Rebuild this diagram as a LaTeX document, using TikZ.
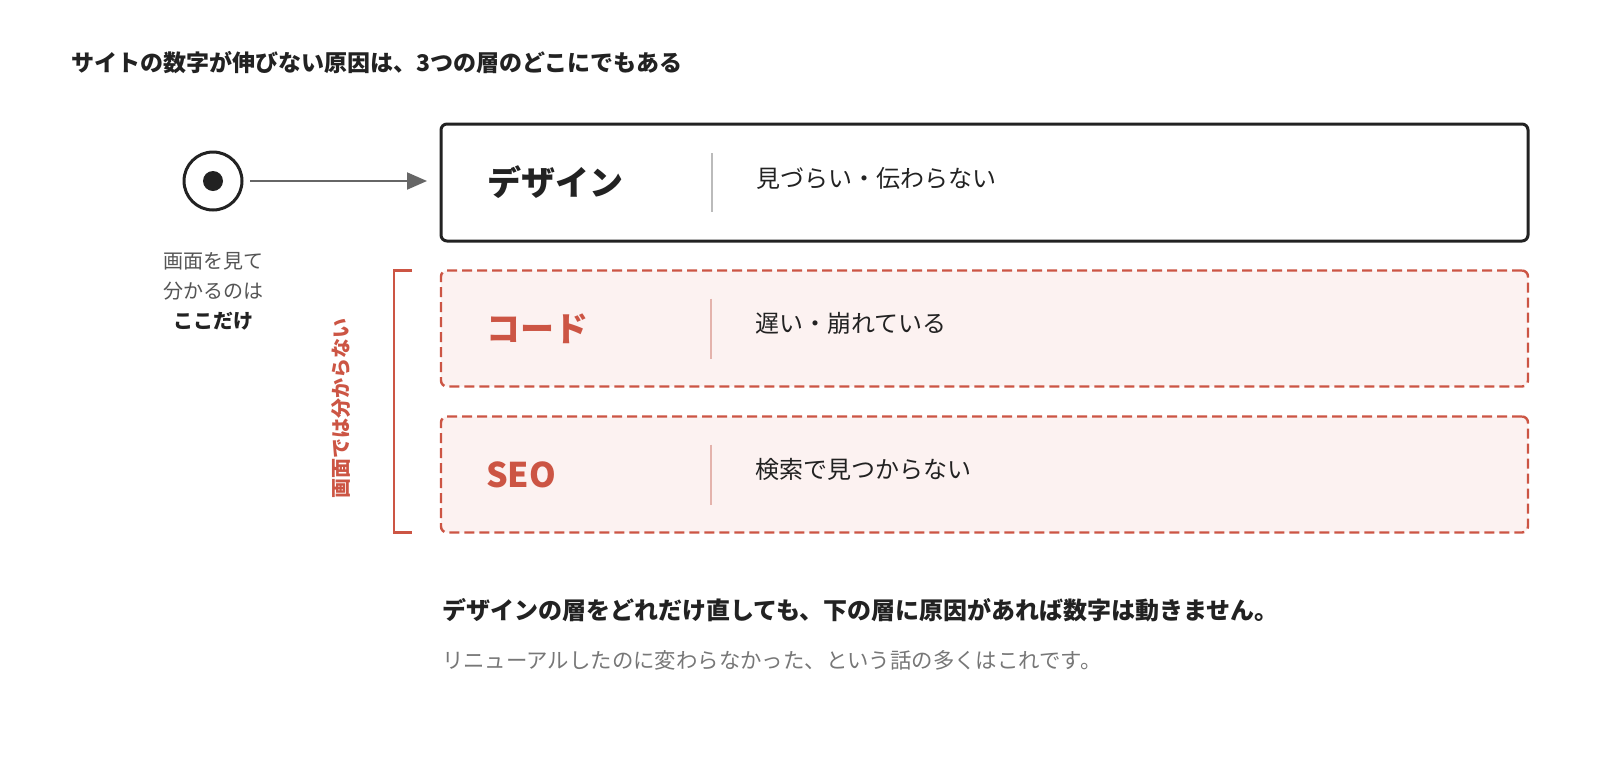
\documentclass[tikz,border=0pt]{standalone}
\usepackage{fontspec}
\setmainfont{Noto Sans CJK JP}
\usetikzlibrary{positioning,arrows.meta}
\definecolor{ink}{HTML}{222222}
\definecolor{softgray}{HTML}{555555}
\definecolor{lightgray}{HTML}{777777}
\definecolor{arrowgray}{HTML}{666666}
\definecolor{divgray}{HTML}{BBBBBB}
\definecolor{layerred}{HTML}{CC5544}
\definecolor{divred}{HTML}{E4B3AC}
\definecolor{pinkfill}{HTML}{FCF2F1}
\newcommand{\px}[1]{\fontsize{#1pt}{#1pt}\selectfont}
\begin{document}
\begin{tikzpicture}[x=1pt,y=-1pt,
  every node/.style={inner sep=0pt,outer sep=0pt,text=ink},
  topbox/.style={draw=ink,line width=3pt,rounded corners=6pt,minimum width=1087pt,minimum height=117pt},
  hiddenbox/.style={draw=layerred,fill=pinkfill,line width=2.4pt,dash pattern=on 10pt off 5pt,rounded corners=6pt,minimum width=1087pt,minimum height=116pt},
  layername/.style={anchor=west,font=\px{34}\bfseries},
  layerdesc/.style={anchor=west,font=\px{24}},
  divider/.style={line width=1.5pt},
  flowarrow/.style={draw=arrowgray,line width=2pt,-{Triangle[length=20pt,width=17pt]}}]
\fill[white] (0,0) rectangle (1600,764);
\useasboundingbox (0,0) rectangle (1600,764);
% heading
\node[anchor=west,font=\px{23}\bfseries] (heading) at (71,62.5) {サイトの数字が伸びない原因は、3つの層のどこにでもある};
% the three layers
\node[topbox] (design) at (984.5,182.5) {};
\node[hiddenbox] (code) at (984.5,328.5) {};
\node[hiddenbox] (seo) at (984.5,474.5) {};
\node[layername] (designname) at ([xshift=46pt]design.west) {デザイン};
\node[layername,text=layerred] (codename) at ([xshift=45pt]code.west) {コード};
\node[layername,text=layerred] (seoname) at ([xshift=45pt]seo.west) {SEO};
\draw[divider,divgray] ([xshift=271pt,yshift=29.5pt]design.west) -- ([xshift=271pt,yshift=-29.5pt]design.west);
\draw[divider,divred] ([xshift=270pt,yshift=30pt]code.west) -- ([xshift=270pt,yshift=-30pt]code.west);
\draw[divider,divred] ([xshift=270pt,yshift=30pt]seo.west) -- ([xshift=270pt,yshift=-30pt]seo.west);
\node[layerdesc] (designdesc) at ([xshift=315pt,yshift=4pt]design.west) {見づらい・伝わらない};
\node[layerdesc] (codedesc) at ([xshift=314pt,yshift=5pt]code.west) {遅い・崩れている};
\node[layerdesc] (seodesc) at ([xshift=314pt,yshift=5pt]seo.west) {検索で見つからない};
% what the screen shows
\node[circle,draw=ink,line width=3pt,minimum size=58pt] (eye) at (213,181) {};
\fill[ink] (eye.center) circle (10);
\draw[flowarrow,shorten <=8pt,shorten >=14pt] (eye.east) -- (eye.east -| design.west);
\node[align=center,font=\px{20},text=softgray] (eyenote) at (213,291)
  {画面を見て\\[10pt]分かるのは\\[10pt]\textcolor{ink}{\bfseries ここだけ}};
% bracket over the hidden layers
\draw[layerred,line width=2.2pt] ([xshift=-29pt]code.north west) -- ([xshift=-47pt]code.north west)
  -- ([xshift=-47pt]seo.south west) -- ([xshift=-29pt]seo.south west);
\node[rotate=90,font=\px{20}\bfseries,text=layerred] (hidden) at (341,408) {画面では分からない};
% closing lines
\node[anchor=west,font=\px{24}\bfseries] (summary) at (442,610.5) {デザインの層をどれだけ直しても、下の層に原因があれば数字は動きません。};
\node[anchor=west,font=\px{21.4},text=lightgray] (aside) at (442,660.5) {リニューアルしたのに変わらなかった、という話の多くはこれです。};
\end{tikzpicture}
\end{document}
